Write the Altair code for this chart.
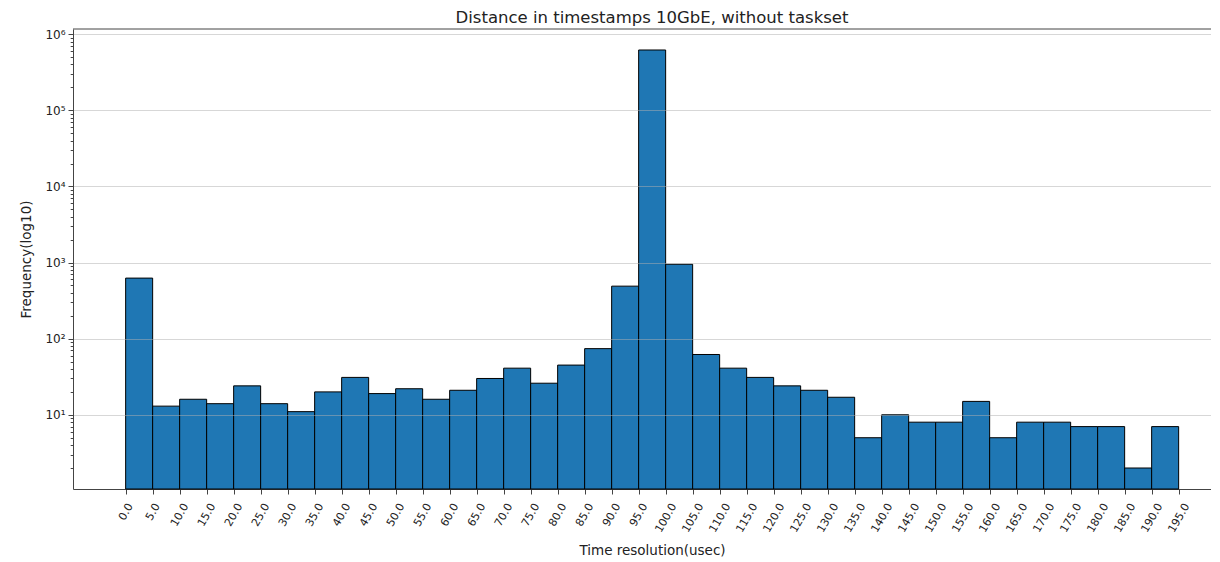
import altair as alt
import pandas as pd

# ---- data ----
bin_starts = list(range(0, 195, 5))  # 0 .. 190
counts = [625, 13, 16, 14, 24, 14, 11, 20, 31, 19,
          22, 16, 21, 30, 41, 26, 45, 74, 490, 620000,
          950, 62, 41, 31, 24, 21, 17, 5, 10, 8,
          8, 15, 5, 8, 8, 7, 7, 2, 7]
bin_width = 5
x_tick_values = list(range(0, 200, 5))
y_major = [10, 100, 1000, 10000, 100000, 1000000]
y_minor = [m * 10 ** e for e in range(0, 6) for m in range(2, 10)]

title_text = "Distance in timestamps 10GbE, without taskset"
x_title = "Time resolution(usec)"
y_title = "Frequency(log10)"

df = pd.DataFrame({
    "start": bin_starts,
    "end": [s + bin_width for s in bin_starts],
    "count": counts,
})

W, H = 1138, 460
Y_LO, Y_HI = 1.06, 1.17e6
FONT = "DejaVu Sans"

major_test = "abs(log(datum.value)/LN10 - round(log(datum.value)/LN10)) < 1e-6"
label_expr = (major_test + " ? '10' + ['⁰','¹','²','³','⁴','⁵','⁶'][round(log(datum.value)/LN10)] : ''")

bars = alt.Chart(df).mark_bar(
    color="#1f77b4", stroke="black", strokeWidth=1
).encode(
    x=alt.X("start:Q",
            scale=alt.Scale(domain=[-9.75, 200.99], nice=False, zero=False),
            axis=alt.Axis(values=x_tick_values, format=".1f", labelAngle=-60,
                          labelAlign="right", labelBaseline="middle",
                          labelPadding=10, labelFontSize=11,
                          labelOffset={"condition": [
                              {"test": "datum.value >= 100", "value": 8},
                              {"test": "datum.value >= 10", "value": 6}],
                              "value": 4.5},
                          tickSize=5,
                          grid=False, title=x_title,
                          titleX=579, titleY=54, titleBaseline="top",
                          titleAnchor="middle")),
    x2="end:Q",
    y=alt.Y("count:Q",
            scale=alt.Scale(type="log", domain=[Y_LO, Y_HI], nice=False),
            axis=alt.Axis(values=y_major + y_minor, labelExpr=label_expr,
                          labelFontSize=12,
                          tickSize={"condition": {"test": major_test, "value": 5}, "value": 2.8},
                          gridOpacity={"condition": {"test": major_test, "value": 0.5}, "value": 0},
                          gridColor="#b0b0b0", grid=True, zindex=1,
                          labelPadding=3, title=y_title,
                          titleX=-40, titleY=230, titleBaseline="bottom")),
    y2=alt.datum(Y_LO),
)

top_spine = alt.Chart(pd.DataFrame({"a": [0]})).mark_rule(
    color="#444444", strokeWidth=1
).encode(y=alt.value(0), x=alt.value(0), x2=alt.value(W))

chart = alt.layer(bars, top_spine).properties(
    width=W, height=H,
    title=alt.TitleParams(title_text, anchor="middle", dx=10, offset=2,
                          fontSize=16.5, fontWeight="normal", font=FONT, color="#222222"),
    autosize=alt.AutoSizeParams(type="none"),
    padding={"left": 65, "top": 21, "right": 0, "bottom": 72},
).configure_view(stroke=None).configure_axis(
    labelFont=FONT, titleFont=FONT, titleFontSize=13.5,
    labelColor="#222222", titleColor="#222222", titleFontWeight="normal",
    domainColor="#444444", tickColor="#444444", labelOverlap=False,
    labelFlush=False, labelBound=False,
)

chart.save("out.html", embed_options={"renderer": "svg", "actions": False})
